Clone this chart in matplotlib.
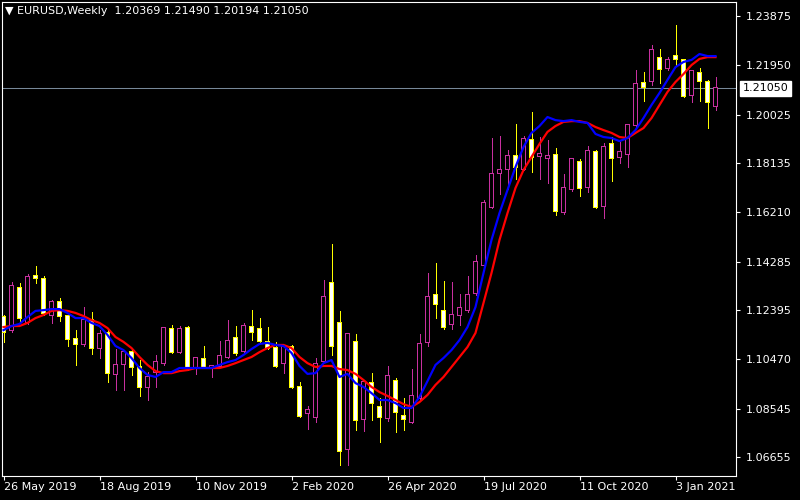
import matplotlib
matplotlib.use("Agg")
import matplotlib.pyplot as plt
import matplotlib.transforms as mtransforms
import numpy as np
import pandas as pd

symbol = "EURUSD"
timeframe = "Weekly"
start_week = "2019-05-26"

opens = [1.1212, 1.1161, 1.1325, 1.1193, 1.1372, 1.1361, 1.1220, 1.1271, 1.1216, 1.1126,
         1.1107, 1.1200, 1.1091, 1.1150, 1.0990, 1.1029, 1.1075, 1.1017, 1.0939, 1.0997,
         1.1032, 1.1165, 1.1075, 1.1169, 1.1017, 1.1048, 1.1013, 1.1021, 1.1056, 1.1130,
         1.1079, 1.1173, 1.1165, 1.1115, 1.1091, 1.1032, 1.1095, 1.0939, 1.0837, 1.0822,
         1.1040, 1.1345, 1.1189, 1.0697, 1.1115, 1.0814, 1.0954, 1.0861, 1.0818, 1.0962,
         1.0826, 1.0802, 1.0896, 1.1115, 1.1298, 1.1236, 1.1185, 1.1220, 1.1239, 1.1306,
         1.1415, 1.1642, 1.1774, 1.1790, 1.1841, 1.1790, 1.1903, 1.1841, 1.1833, 1.1845,
         1.1622, 1.1712, 1.1817, 1.1720, 1.1856, 1.1646, 1.1888, 1.1837, 1.1849, 1.1962,
         1.2126, 1.2134, 1.2224, 1.2184, 1.2231, 1.2216, 1.2079, 1.2165, 1.2130, 1.20369]

highs = [1.1220, 1.1349, 1.1345, 1.1380, 1.1411, 1.1372, 1.1279, 1.1286, 1.1220, 1.1161,
         1.1251, 1.1232, 1.1161, 1.1161, 1.1087, 1.1083, 1.1091, 1.1044, 1.0997, 1.1064,
         1.1173, 1.1181, 1.1177, 1.1177, 1.1056, 1.1099, 1.1025, 1.1118, 1.1200, 1.1177,
         1.1189, 1.1239, 1.1208, 1.1173, 1.1115, 1.1103, 1.1103, 1.0958, 1.0865, 1.1052,
         1.1357, 1.1497, 1.1236, 1.1146, 1.1146, 1.0966, 1.0993, 1.0896, 1.1021, 1.0974,
         1.0896, 1.1009, 1.1146, 1.1384, 1.1423, 1.1353, 1.1349, 1.1302, 1.1372, 1.1454,
         1.1669, 1.1911, 1.1919, 1.1864, 1.1966, 1.1919, 1.2013, 1.1915, 1.1903, 1.1872,
         1.1771, 1.1833, 1.1829, 1.1880, 1.1864, 1.1892, 1.1915, 1.1895, 1.1966, 1.2177,
         1.2169, 1.2274, 1.2259, 1.2227, 1.2352, 1.2216, 1.2177, 1.2184, 1.2138, 1.21490]

lows = [1.1115, 1.1154, 1.1193, 1.1185, 1.1345, 1.1220, 1.1189, 1.1196, 1.1099, 1.1025,
        1.1099, 1.1068, 1.1052, 1.0958, 1.0927, 1.0927, 1.0986, 1.0904, 1.0888, 1.0939,
        1.1025, 1.1072, 1.1072, 1.1005, 1.0990, 1.1013, 1.0978, 1.1017, 1.1052, 1.1064,
        1.1075, 1.1122, 1.1111, 1.1087, 1.1017, 1.0993, 1.0935, 1.0822, 1.0775, 1.0802,
        1.1036, 1.1064, 1.0634, 1.0634, 1.0771, 1.0767, 1.0810, 1.0724, 1.0806, 1.0763,
        1.0771, 1.0798, 1.0888, 1.1099, 1.1208, 1.1165, 1.1165, 1.1181, 1.1232, 1.1298,
        1.1407, 1.1638, 1.1692, 1.1712, 1.1751, 1.1786, 1.1778, 1.1751, 1.1735, 1.1610,
        1.1614, 1.1704, 1.1685, 1.1700, 1.1638, 1.1599, 1.1743, 1.1813, 1.1798, 1.1950,
        1.2056, 1.2118, 1.2126, 1.2177, 1.2196, 1.2071, 1.2052, 1.2056, 1.1950, 1.20194]

closes = [1.1154, 1.1333, 1.1208, 1.1368, 1.1366, 1.1228, 1.1271, 1.1216, 1.1126, 1.1107,
          1.1200, 1.1091, 1.1146, 1.0993, 1.1025, 1.1075, 1.1017, 1.0939, 1.0978, 1.1036,
          1.1169, 1.1075, 1.1165, 1.1017, 1.1052, 1.1017, 1.1021, 1.1060, 1.1118, 1.1072,
          1.1177, 1.1154, 1.1118, 1.1091, 1.1021, 1.1099, 1.0939, 1.0826, 1.0849, 1.1029,
          1.1290, 1.1099, 1.0689, 1.1146, 1.0810, 1.0958, 1.0876, 1.0822, 1.0982, 1.0841,
          1.0814, 1.0904, 1.1107, 1.1290, 1.1263, 1.1173, 1.1220, 1.1247, 1.1298, 1.1427,
          1.1657, 1.1771, 1.1786, 1.1841, 1.1798, 1.1907, 1.1837, 1.1849, 1.1841, 1.1626,
          1.1716, 1.1829, 1.1716, 1.1860, 1.1642, 1.1876, 1.1833, 1.1856, 1.1962, 1.2122,
          1.2110, 1.2255, 1.2181, 1.2216, 1.2220, 1.2075, 1.2173, 1.2134, 1.2052, 1.21050]

ma_fast = [1.1161, 1.1177, 1.1185, 1.1212, 1.1236, 1.1239, 1.1243, 1.1243, 1.1228, 1.1208,
           1.1208, 1.1189, 1.1177, 1.1142, 1.1099, 1.1083, 1.1052, 1.1013, 1.0986, 1.0978,
           1.0997, 1.0997, 1.1013, 1.1013, 1.1013, 1.1013, 1.1013, 1.1025, 1.1036, 1.1044,
           1.1064, 1.1087, 1.1107, 1.1111, 1.1103, 1.1099, 1.1072, 1.1021, 1.0990, 1.0993,
           1.1032, 1.1044, 1.0978, 1.0990, 1.0954, 1.0939, 1.0915, 1.0888, 1.0888, 1.0876,
           1.0857, 1.0857, 1.0900, 1.0962, 1.1025, 1.1052, 1.1083, 1.1122, 1.1173, 1.1251,
           1.1384, 1.1513, 1.1618, 1.1708, 1.1798, 1.1876, 1.1931, 1.1958, 1.1993, 1.1981,
           1.1977, 1.1981, 1.1974, 1.1970, 1.1927, 1.1915, 1.1911, 1.1899, 1.1911, 1.1942,
           1.1989, 1.2040, 1.2087, 1.2138, 1.2188, 1.2208, 1.2216, 1.2239, 1.2231, 1.2231]

ma_slow = [1.1173, 1.1177, 1.1177, 1.1189, 1.1208, 1.1220, 1.1236, 1.1239, 1.1236, 1.1228,
           1.1216, 1.1200, 1.1189, 1.1169, 1.1134, 1.1115, 1.1091, 1.1056, 1.1025, 1.1001,
           1.0993, 1.0993, 1.1001, 1.1005, 1.1013, 1.1013, 1.1013, 1.1013, 1.1021, 1.1032,
           1.1044, 1.1056, 1.1075, 1.1091, 1.1103, 1.1103, 1.1091, 1.1056, 1.1032, 1.1017,
           1.1021, 1.1021, 1.1009, 1.1005, 1.0990, 1.0966, 1.0939, 1.0919, 1.0904, 1.0888,
           1.0872, 1.0861, 1.0880, 1.0908, 1.0947, 1.0978, 1.1017, 1.1056, 1.1095, 1.1150,
           1.1267, 1.1384, 1.1513, 1.1618, 1.1716, 1.1786, 1.1837, 1.1888, 1.1935, 1.1958,
           1.1974, 1.1977, 1.1977, 1.1970, 1.1954, 1.1942, 1.1931, 1.1915, 1.1911, 1.1931,
           1.1950, 1.1989, 1.2040, 1.2091, 1.2130, 1.2161, 1.2196, 1.2220, 1.2227, 1.2227]

price_ticks = [1.23875, 1.21950, 1.20025, 1.18135, 1.16210,
               1.14285, 1.12395, 1.10470, 1.08545, 1.06655]
date_tick_every = 12

# ---------------------------------------------------------------
BG = "black"
FG = "white"
BULL = "#C8309F"
BEAR = "#FFFF00"

o = np.array(opens); h = np.array(highs); l = np.array(lows); c = np.array(closes)
n = len(o)
x = np.arange(n)
weeks = pd.date_range(start_week, periods=n, freq="W-SUN")
up = c >= o

W, H = 800, 500
AX_L, AX_B, AX_W, AX_H = 2, 24, 734, 474
fig = plt.figure(figsize=(W / 100, H / 100), dpi=100, facecolor=BG)
ax = fig.add_axes([AX_L / W, AX_B / H, AX_W / W, AX_H / H], facecolor=BG)

px_per_bar = 8.0
first_bar_px = 1.5                       # centre of bar 0, px from axes left
ymin, ymax = 1.05913, 1.24422
ax.set_xlim(-first_bar_px / px_per_bar, (AX_W - first_bar_px) / px_per_bar)
ax.set_ylim(ymin, ymax)
xpx = 1.0 / px_per_bar                   # one pixel in x data units
ypx = (ymax - ymin) / AX_H               # one pixel in y data units

# wicks (1 px, crisp)
ax.vlines(x[up], l[up], h[up], color=BULL, lw=0.72, zorder=2, antialiased=False)
ax.vlines(x[~up], l[~up], h[~up], color=BEAR, lw=0.72, zorder=2, antialiased=False)

# bodies: outer coloured rectangle + inner fill (1 px border)
top = np.maximum(o, c)
bot = np.minimum(o, c)
outer_w = 5 * xpx
inner_w = 3 * xpx
common = dict(linewidth=0, antialiased=False)
b1 = ax.bar(x[up], (top - bot)[up] + ypx, bottom=bot[up] - ypx / 2, width=outer_w,
            color=BULL, zorder=3, **common)
b2 = ax.bar(x[~up], (top - bot)[~up] + ypx, bottom=bot[~up] - ypx / 2, width=outer_w,
            color=BEAR, zorder=3, **common)
inner_h = np.maximum((top - bot) - ypx, 0)
b3 = ax.bar(x[up], inner_h[up], bottom=bot[up] + ypx / 2, width=inner_w,
            color=BG, zorder=3.5, **common)
b4 = ax.bar(x[~up], inner_h[~up], bottom=bot[~up] + ypx / 2, width=inner_w,
            color="white", zorder=3.5, **common)
for cont in (b1, b2, b3, b4):
    for p in cont.patches:
        p.set_snap(False)

# moving averages
ax.plot(x, ma_slow, color="#FF0000", lw=1.6, zorder=4)
ax.plot(x, ma_fast, color="#0000FF", lw=1.6, zorder=5)

# current price line
ax.axhline(c[-1], color="#778899", lw=0.75, zorder=1)

# spines
for s in ax.spines.values():
    s.set_color(FG)
    s.set_linewidth(0.8)

# y axis on right
ax.yaxis.tick_right()
ax.set_yticks(price_ticks)
ax.set_yticklabels([f"{p:.5f}" for p in price_ticks])
ax.tick_params(axis="y", colors=FG, labelcolor=FG, length=3, width=0.8,
               labelsize=8, pad=4, direction="out")

# x axis date ticks
tick_idx = x[::date_tick_every]
ax.set_xticks(tick_idx)
ax.set_xticklabels([f"{d.day} {d.strftime('%b %Y')}" for d in weeks[tick_idx]],
                   ha="left")
ax.tick_params(axis="x", colors=FG, labelcolor=FG, length=3, width=0.8,
               labelsize=8, pad=1, direction="out")

# current price label box
trans = mtransforms.blended_transform_factory(ax.transAxes, ax.transData)
ax.annotate(f"{c[-1]:.5f}", xy=(1.0, c[-1]), xycoords=trans,
            xytext=(5, 0), textcoords="offset points", va="center", ha="left",
            fontsize=8, color="black",
            bbox=dict(boxstyle="square,pad=0.25", fc="white", ec="white"),
            annotation_clip=False, zorder=10)

# header
ax.text(0.004, 0.982,
        f"\u25BC {symbol},{timeframe}  {o[-1]:.5f} {h[-1]:.5f} {l[-1]:.5f} {c[-1]:.5f}",
        transform=ax.transAxes, color=FG, fontsize=8, va="center", ha="left",
        zorder=10)

fig.savefig("out.png", dpi=100, facecolor=BG)
